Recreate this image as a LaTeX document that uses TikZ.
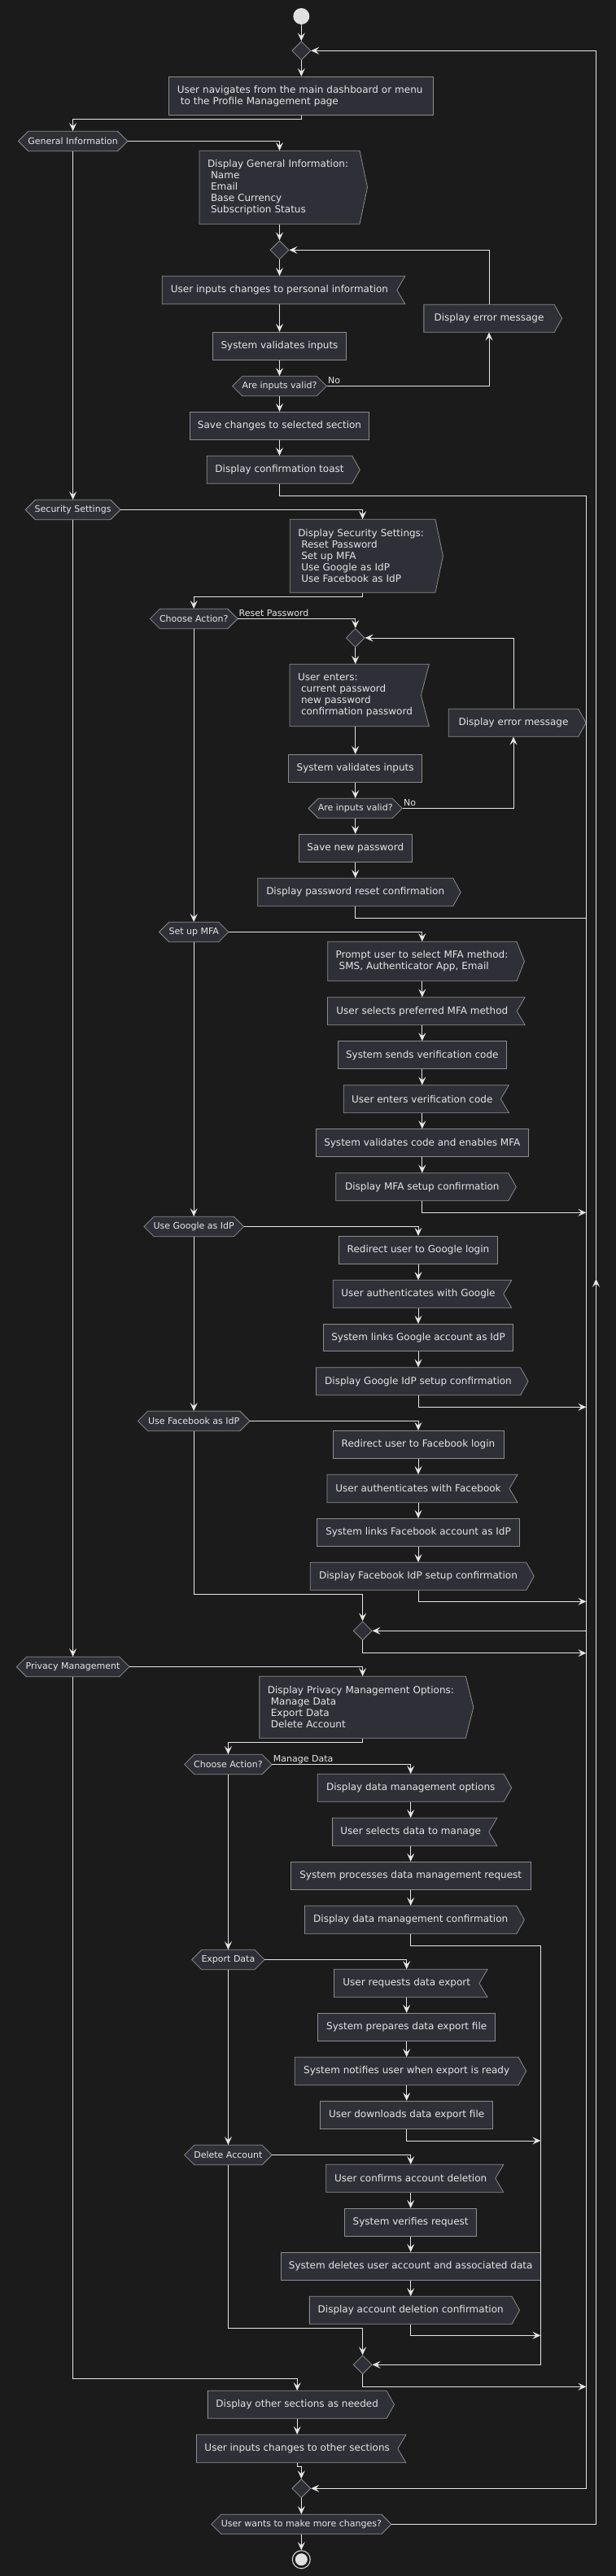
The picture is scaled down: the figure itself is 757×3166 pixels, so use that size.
\documentclass[tikz,border=0pt]{standalone}
\usepackage{fontspec}
\setmainfont{DejaVu Sans}
\usetikzlibrary{arrows.meta,shapes.geometric}
\definecolor{bgcol}{HTML}{1B1B1B}
\definecolor{boxfill}{HTML}{2F2F37}
\definecolor{boxline}{HTML}{8C8C8C}
\definecolor{wirecol}{HTML}{E6E6E6}
\definecolor{txtcol}{HTML}{E6E6E6}
\definecolor{startcol}{HTML}{E0E0E0}
\tikzset{
 shapestyle/.style={fill=boxfill, draw=boxline, line width=0.8pt},
 rectbox/.style={shapestyle, rectangle, inner sep=0pt, text=txtcol, font=\fontsize{12}{14}\selectfont},
 txtnode/.style={rectangle, inner sep=0pt, text=txtcol, font=\fontsize{12}{14}\selectfont},
 hextxt/.style={rectangle, inner sep=0pt, text=txtcol, font=\fontsize{11}{13}\selectfont},
 ml/.style={text width=#1, align=left, inner xsep=10pt},
 merge/.style={diamond, shapestyle, minimum width=23pt, minimum height=23pt, inner sep=0pt},
 wire/.style={draw=wirecol, line width=1pt},
 arr/.style={wire, -{Stealth[length=10pt,width=9pt,inset=4pt]}},
 lbl/.style={text=txtcol, font=\fontsize{11}{13}\selectfont, inner sep=0pt, anchor=base west, xshift=1pt, yshift=3pt},
}
% rectangle box: [opts]{name}{cx}{w}{y1}{y2}{text}
\newcommand\rbox[7][]{%
  \node[rectbox,#1,minimum width=#4pt,minimum height={(#6-#5)*1pt}] (#2) at (#3,{(#5+#6)/2}) {#7};}
% output (send) box
\newcommand\obox[7][]{%
  \filldraw[shapestyle] ({#3-#4/2},#5) -- ({#3+#4/2},#5) -- ({#3+#4/2+9.5},{(#5+#6)/2}) -- ({#3+#4/2},#6) -- ({#3-#4/2},#6) -- cycle;
  \node[txtnode,#1,minimum width=#4pt,minimum height={(#6-#5)*1pt}] (#2) at (#3,{(#5+#6)/2}) {#7};}
% input (receive) box
\newcommand\ibox[7][]{%
  \filldraw[shapestyle] ({#3-#4/2},#5) -- ({#3+#4/2+10},#5) -- ({#3+#4/2},{(#5+#6)/2}) -- ({#3+#4/2+10},#6) -- ({#3-#4/2},#6) -- cycle;
  \node[txtnode,#1,minimum width=#4pt,minimum height={(#6-#5)*1pt}] (#2) at (#3,{(#5+#6)/2}) {#7};}
% hexagon decision
\newcommand\hexbox[7][]{%
  \filldraw[shapestyle] ({#3-#4/2},{(#5+#6)/2}) -- ({#3-#4/2+(#6-#5)/2},#5) -- ({#3+#4/2-(#6-#5)/2},#5) -- ({#3+#4/2},{(#5+#6)/2}) -- ({#3+#4/2-(#6-#5)/2},#6) -- ({#3-#4/2+(#6-#5)/2},#6) -- cycle;
  \node[hextxt,#1,minimum width=#4pt,minimum height={(#6-#5)*1pt}] (#2) at (#3,{(#5+#6)/2}) {#7};}
\begin{document}
\begin{tikzpicture}[x=1pt,y=-1pt]
\useasboundingbox (0,0) rectangle (757,3166);
\fill[bgcol] (0,0) rectangle (757,3166);

\node[circle, fill=startcol, minimum size=20pt, inner sep=0pt] (start) at (370.3,20) {};
\node[merge] (d1) at (370.3,62.3) {};
\rbox[ml=305pt]{nav}{370.3}{325}{94.3}{141.7}{\mbox{User navigates from the main dashboard or menu}\\\mbox{\ to the Profile Management page}}
\hexbox{genhex}{89.6}{134.3}{161.3}{185.7}{General Information}
\obox[ml=177pt]{dispgen}{343.5}{197}{185.3}{275.3}{\mbox{Display General Information:}\\\mbox{\ Name}\\\mbox{\ Email}\\\mbox{\ Base Currency}\\\mbox{\ Subscription Status}}
\node[merge] (d2) at (343.5,307.3) {};
\ibox{uinp}{343.5}{288.7}{339.3}{373.7}{User inputs changes to personal information}
\rbox{sval1}{343.5}{164.2}{408.3}{442.7}{System validates inputs}
\hexbox{valid1}{343.5}{115.8}{462.3}{486.7}{Are inputs valid?}
\obox{err1}{601}{160.3}{374.3}{408.3}{Display error message}
\rbox{save1}{343.5}{220.7}{506.3}{540.7}{Save changes to selected section}
\obox{toast}{343.5}{178.6}{560.3}{594.3}{Display confirmation toast}

\hexbox{sechex}{89.6}{116.8}{614.3}{638.7}{Security Settings}
\obox[ml=158.7pt]{dispsec}{445.6}{178.7}{638.3}{728.3}{\mbox{Display Security Settings:}\\\mbox{\ Reset Password}\\\mbox{\ Set up MFA}\\\mbox{\ Use Google as IdP}\\\mbox{\ Use Facebook as IdP}}
\hexbox{ch1}{238.2}{107.6}{748.3}{772.7}{Choose Action?}
\node[merge] (d3) at (436.7,784) {};
\ibox[ml=141.3pt]{uenters}{436.7}{161.3}{816.3}{892.7}{\mbox{User enters:}\\\mbox{\ current password}\\\mbox{\ new password}\\\mbox{\ confirmation password}}
\rbox{sval2}{436.7}{164.2}{927.3}{961.7}{System validates inputs}
\obox{err2}{631}{159.4}{871.3}{905.3}{Display error message}
\hexbox{valid2}{436.7}{115.4}{981.3}{1005.7}{Are inputs valid?}
\rbox{savepwd}{436.7}{139}{1025.3}{1059.3}{Save new password}
\obox{disppwd}{436.7}{240}{1079.3}{1113.7}{Display password reset confirmation}

\hexbox{mfahex}{238.2}{85.4}{1133.3}{1157.7}{Set up MFA}
\obox[ml=212.3pt]{prompt}{518.8}{232.3}{1157.3}{1205.7}{\mbox{Prompt user to select MFA method:}\\\mbox{\ SMS, Authenticator App, Email}}
\ibox{selmfa}{518.8}{232.7}{1225.7}{1259.7}{User selects preferred MFA method}
\rbox{sends}{518.8}{207.6}{1279.7}{1313.7}{System sends verification code}
\ibox{entcode}{518.8}{193.1}{1333.7}{1367.7}{User enters verification code}
\rbox{valcode}{518.8}{261.7}{1387.7}{1421.7}{System validates code and enables MFA}
\obox{dispmfa}{518.8}{212}{1441.7}{1475.7}{Display MFA setup confirmation}

\hexbox{gohex}{238.2}{122.7}{1495.3}{1519.7}{Use Google as IdP}
\rbox{redirg}{514}{195.1}{1519.3}{1553.3}{Redirect user to Google login}
\ibox{authg}{514}{209.5}{1573.3}{1607.3}{User authenticates with Google}
\rbox{linkg}{514}{233.2}{1627.3}{1660.7}{System links Google account as IdP}
\obox{dispg}{514}{251.1}{1680.7}{1714.7}{Display Google IdP setup confirmation}

\hexbox{fbhex}{238.2}{137.6}{1734.3}{1758.7}{Use Facebook as IdP}
\rbox{redirf}{514}{210}{1758.3}{1792.7}{Redirect user to Facebook login}
\ibox{authf}{514}{224.1}{1812.3}{1846.7}{User authenticates with Facebook}
\rbox{linkf}{514}{249.1}{1866.3}{1900.7}{System links Facebook account as IdP}
\obox{dispf}{514}{265.5}{1920.3}{1954.3}{Display Facebook IdP setup confirmation}
\node[merge] (d4) at (445.6,2004.3) {};

\hexbox{privhex}{89.6}{138.6}{2036.3}{2060.7}{Privacy Management}
\obox[ml=233.5pt]{disppriv}{445.6}{253.5}{2060.3}{2136.3}{\mbox{Display Privacy Management Options:}\\\mbox{\ Manage Data}\\\mbox{\ Export Data}\\\mbox{\ Delete Account}}
\hexbox{ch2}{280.4}{107.6}{2156.3}{2180.7}{Choose Action?}
\obox{dispdm}{504.7}{228.9}{2180.3}{2214.3}{Display data management options}
\ibox{seldata}{504.7}{192.2}{2234.3}{2268.7}{User selects data to manage}
\rbox{procdm}{504.7}{294.6}{2288.3}{2322.7}{System processes data management request}
\obox{dmconf}{504.7}{260.3}{2342.3}{2376.7}{Display data management confirmation}
\hexbox{exphex}{280.4}{89.4}{2396.3}{2420.7}{Export Data}
\ibox{reqexp}{499.7}{178.6}{2420.3}{2454.7}{User requests data export}
\rbox{prepexp}{499.7}{217.8}{2474.3}{2508.7}{System prepares data export file}
\obox{notify}{499.7}{274.8}{2528.3}{2562.7}{System notifies user when export is ready}
\rbox{download}{499.7}{212}{2582.3}{2616.7}{User downloads data export file}
\hexbox{delhex}{280.4}{107.6}{2636.3}{2660.7}{Delete Account}
\ibox{confdel}{504.7}{208.1}{2660.3}{2694.3}{User confirms account deletion}
\rbox{verify}{504.7}{162.2}{2714.3}{2748.3}{System verifies request}
\rbox{deldata}{504.7}{319.6}{2768.3}{2802.7}{System deletes user account and associated data}
\obox{dispdel}{504.7}{248.7}{2822.3}{2856.3}{Display account deletion confirmation}
\node[merge] (d5) at (445.6,2906.3) {};

\obox{dispother}{365.2}{219.7}{2938.3}{2972.3}{Display other sections as needed}
\ibox{inpother}{365.2}{247.3}{2992.3}{3026.7}{User inputs changes to other sections}
\node[merge] (d6) at (370.3,3058.3) {};
\hexbox{more}{370.3}{221.1}{3090.3}{3114.3}{User wants to make more changes?}
\node[circle, draw=startcol, line width=1pt, minimum size=22pt, inner sep=0pt] (stopnode) at (370.3,3145.7) {};
\fill[startcol] (stopnode.center) circle (7.5);

\coordinate (j6) at (720.4,3058.3);
\coordinate (j4) at (720.4,2004.3);
\coordinate (j5) at (664.4,2906.3);
\coordinate (loopmid) at (732.5,1571.7);
\coordinate (m1) at (720.4,1490.3);
\coordinate (m2) at (720.4,1729.3);
\coordinate (m3) at (720.4,1968.3);
\coordinate (m4) at (720.4,2031.7);
\coordinate (m5) at (664.4,2631);
\coordinate (m6) at (664.4,2870.3);
\coordinate (m7) at (720.4,2933.3);

\draw[arr] (start) -- (d1);
\draw[arr] (d1) -- (nav);
\draw[arr] (nav.south) -- ++(0,4.3) -| (genhex.north);
\draw[arr] (genhex.east) -| (dispgen.north);
\draw[arr] (dispgen.south) -- (d2.north);
\draw[arr] (d2.south) -- (uinp.north);
\draw[arr] (uinp.south) -- (sval1.north);
\draw[arr] (sval1.south) -- (valid1.north);
\draw[arr] (valid1.east) -| (err1.south) node[pos=0,lbl]{No};
\draw[arr] (err1.north) |- (d2.east);
\draw[arr] (valid1.south) -- (save1.north);
\draw[arr] (save1.south) -- (toast.north);
\draw[arr] (toast.south) -- ++(0,15) -| (j6) -- (d6.east);
\draw[arr] (genhex.south) -- (sechex.north);
\draw[arr] (sechex.east) -| (dispsec.north);
\draw[arr] (dispsec.south) -- ++(0,5) -| (ch1.north);
\draw[arr] (ch1.east) -| (d3.north) node[pos=0,lbl]{Reset Password};
\draw[arr] (d3.south) -- (uenters.north);
\draw[arr] (uenters.south) -- (sval2.north);
\draw[arr] (sval2.south) -- (valid2.north);
\draw[arr] (valid2.east) -| (err2.south) node[pos=0,lbl]{No};
\draw[arr] (err2.north) |- (d3.east);
\draw[arr] (valid2.south) -- (savepwd.north);
\draw[arr] (savepwd.south) -- (disppwd.north);
\draw[arr] (disppwd.south) -- ++(0,14.6) -| (j4) -- (d4.east);
\draw[arr] (ch1.south) -- (mfahex.north);
\draw[arr] (mfahex.east) -| (prompt.north);
\draw[arr] (prompt.south) -- (selmfa.north);
\draw[arr] (selmfa.south) -- (sends.north);
\draw[arr] (sends.south) -- (entcode.north);
\draw[arr] (entcode.south) -- (valcode.north);
\draw[arr] (valcode.south) -- (dispmfa.north);
\draw[arr] (dispmfa.south) |- (m1);
\draw[arr] (mfahex.south) -- (gohex.north);
\draw[arr] (gohex.east) -| (redirg.north);
\draw[arr] (redirg.south) -- (authg.north);
\draw[arr] (authg.south) -- (linkg.north);
\draw[arr] (linkg.south) -- (dispg.north);
\draw[arr] (dispg.south) |- (m2);
\draw[arr] (gohex.south) -- (fbhex.north);
\draw[arr] (fbhex.east) -| (redirf.north);
\draw[arr] (redirf.south) -- (authf.north);
\draw[arr] (authf.south) -- (linkf.north);
\draw[arr] (linkf.south) -- (dispf.north);
\draw[arr] (dispf.south) |- (m3);
\draw[arr] (fbhex.south) -- ++(0,200.6) -| (d4.north);
\draw[arr] (d4.south) |- (m4);
\draw[arr] (sechex.south) -- (privhex.north);
\draw[arr] (privhex.east) -| (disppriv.north);
\draw[arr] (disppriv.south) -- ++(0,5) -| (ch2.north);
\draw[arr] (ch2.east) -| (dispdm.north) node[pos=0,lbl]{Manage Data};
\draw[arr] (dispdm.south) -- (seldata.north);
\draw[arr] (seldata.south) -- (procdm.north);
\draw[arr] (procdm.south) -- (dmconf.north);
\draw[arr] (dmconf.south) -- ++(0,14.6) -| (j5) -- (d5.east);
\draw[arr] (ch2.south) -- (exphex.north);
\draw[arr] (exphex.east) -| (reqexp.north);
\draw[arr] (reqexp.south) -- (prepexp.north);
\draw[arr] (prepexp.south) -- (notify.north);
\draw[arr] (notify.south) -- (download.north);
\draw[arr] (download.south) |- (m5);
\draw[arr] (exphex.south) -- (delhex.north);
\draw[arr] (delhex.east) -| (confdel.north);
\draw[arr] (confdel.south) -- (verify.north);
\draw[arr] (verify.south) -- (deldata.north);
\draw[arr] (deldata.south) -- (dispdel.north);
\draw[arr] (dispdel.south) |- (m6);
\draw[arr] (delhex.south) -- ++(0,200.6) -| (d5.north);
\draw[arr] (d5.south) |- (m7);
\draw[arr] (privhex.south) -- ++(0,862.6) -| (dispother.north);
\draw[arr] (dispother.south) -- (inpother.north);
\draw[arr] (inpother.south) -- ++(0,4.3) -| (d6.north);
\draw[arr] (d6.south) -- (more.north);
\draw[arr] (more.south) -- (stopnode.north);
\draw[arr] (more.east) -| (loopmid);
\draw[arr] (loopmid) |- (d1.east);
\end{tikzpicture}
\end{document}
